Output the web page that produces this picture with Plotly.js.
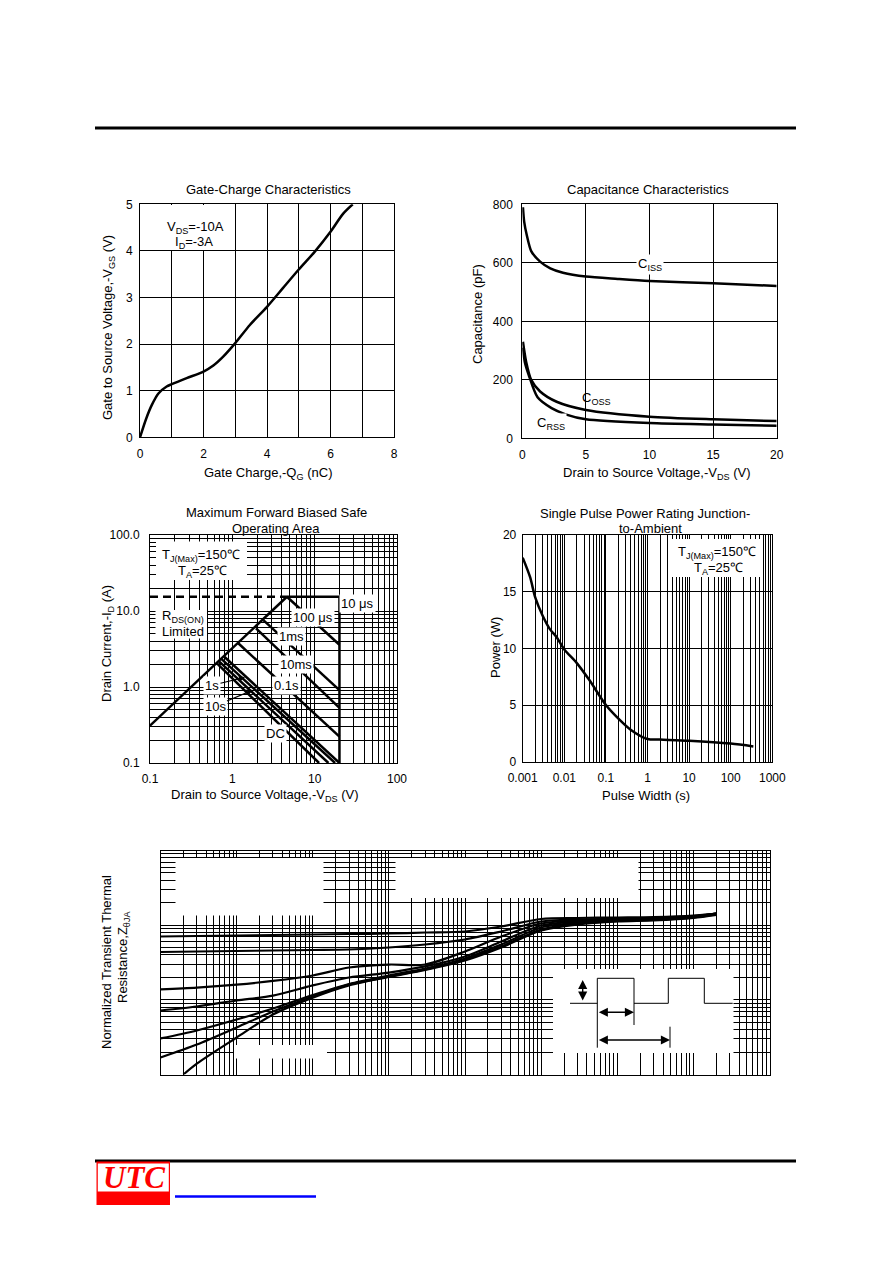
<!DOCTYPE html>
<html><head><meta charset="utf-8">
<script src="https://cdn.plot.ly/plotly-3.0.1.min.js"></script>
<style>html,body{margin:0;padding:0;background:#fff}#c{width:892px;height:1263px}</style>
</head><body><div id="c"></div>
<script>
// ---------- Gate-Charge Characteristics ----------
const gateQ = [0, 0.2, 0.37, 0.58, 0.84, 1.0, 1.47, 2.0, 2.31, 2.62, 3.0, 3.46, 4.0, 4.5, 5.0, 5.5, 6.0, 6.4, 6.7];
const gateV = [0, 0.41, 0.69, 0.94, 1.09, 1.14, 1.27, 1.41, 1.54, 1.73, 2.02, 2.41, 2.8, 3.2, 3.6, 3.98, 4.41, 4.8, 5.0];

// ---------- Capacitance Characteristics ----------
const cissV = [0.05, 0.15, 0.35, 0.7, 1.4, 2.2, 3.2, 5, 7.5, 10, 15, 20];
const ciss  = [790, 740, 695, 640, 604, 581, 566, 553, 545, 538, 530, 521];
const cossV = [0.05, 0.3, 0.7, 1.4, 2.7, 5, 10, 15, 20];
const coss  = [330, 262, 200, 160, 125, 97, 74, 65, 59];
const crssV = [0.05, 0.2, 0.5, 1.2, 2.3, 3.4, 5, 10, 15, 20];
const crss  = [310, 260, 217, 140, 103, 82, 65, 52, 47, 43];

// ---------- Safe Operating Area ----------
const rdsV = [0.1, 4.6];
const rdsI = [0.31, 15.4];
const limDashV = [0.1, 4.6];
const limDashI = [15.4, 15.4];
const limSolidV = [4.6, 20, 20];
const limSolidI = [15.4, 15.4, 0.1];
const pulseNames = ["100 μs", "1ms", "10ms", "0.1s", "1s", "10s", "100s", "DC"];
const pulseV0 = [4.6, 2.38, 1.94, 1.18, 0.80, 0.74, 0.69, 0.65];
const pulseI0 = [15.4, 7.6, 5.9, 3.76, 2.5, 2.33, 2.17, 2.05];
const pulseV1 = [20, 20, 20, 20, 20, 17.7, 14.7, 11.3];
const pulseI1 = [3.6, 0.91, 0.53, 0.222, 0.1, 0.1, 0.1, 0.1];

// ---------- Single Pulse Power ----------
const pulseWidth = [0.001, 0.0015, 0.002, 0.003, 0.0045, 0.0065, 0.01, 0.02, 0.04, 0.1, 0.2, 0.4, 1, 2, 10, 100, 350];
const pulsePower = [18.0, 16.3, 14.5, 12.9, 11.7, 11.0, 9.9, 8.7, 7.2, 5.0, 3.8, 2.8, 2.0, 1.95, 1.85, 1.6, 1.35];

// ---------- Transient Thermal Impedance ----------
const thT  = [1e-4, 3e-4, 1e-3, 3e-3, 1e-2, 3e-2, 0.1, 0.3, 1, 3, 10, 30, 100, 300, 1000, 2000];
const thTs = [2e-4, 3e-4, 1e-3, 3e-3, 1e-2, 3e-2, 0.1, 0.3, 1, 3, 10, 30, 100, 300, 1000, 2000];
const zA = [0.705, 0.716, 0.727, 0.738, 0.750, 0.762, 0.773, 0.798, 0.823, 0.960, 1.209, 1.247, 1.267, 1.286, 1.347, 1.433];
const zB = [0.437, 0.444, 0.451, 0.458, 0.465, 0.472, 0.502, 0.551, 0.643, 0.823, 1.120, 1.191, 1.228, 1.247, 1.327, 1.433];
const zC = [0.138, 0.146, 0.160, 0.179, 0.212, 0.271, 0.297, 0.297, 0.444, 0.705, 1.053, 1.155, 1.191, 1.228, 1.306, 1.433];
const zD = [0.0720, 0.0814, 0.098, 0.114, 0.156, 0.199, 0.232, 0.280, 0.381, 0.604, 0.990, 1.120, 1.173, 1.209, 1.306, 1.433];
const zE = [0.0304, 0.0389, 0.0545, 0.0766, 0.116, 0.163, 0.212, 0.263, 0.358, 0.551, 0.931, 1.086, 1.155, 1.191, 1.286, 1.411];
const zF = [0.0169, 0.0252, 0.0426, 0.0698, 0.111, 0.160, 0.205, 0.255, 0.347, 0.518, 0.875, 1.053, 1.137, 1.173, 1.267, 1.390];
const zSingle = [0.0100, 0.0140, 0.0313, 0.0636, 0.107, 0.156, 0.202, 0.251, 0.336, 0.502, 0.848, 1.021, 1.120, 1.155, 1.247, 1.368];

// ---------- helpers (layout positions only) ----------
const W = 892, H = 1263;
const PX = x => x / W;
const PY = y => 1 - y / H;
function logMinors(lo, hi) {
  const out = [];
  for (let e = lo; e < hi; e++) for (let k = 2; k <= 9; k++) out.push(+(k * Math.pow(10, e)).toPrecision(6));
  return out;
}
const FONT = 'Liberation Sans, Arial, Helvetica, sans-serif';
const base = {showline: true, mirror: true, linecolor: '#000', linewidth: 1, showgrid: true,
  gridcolor: '#000', gridwidth: 1, zeroline: false, ticks: '', fixedrange: true,
  tickfont: {size: 12, color: '#000', family: FONT}};
const minorGrid = vals => ({tickmode: 'array', tickvals: vals, showgrid: true, gridcolor: '#000', gridwidth: 1, ticks: ''});

const L = (x, y, xa, ya, extra) => Object.assign({x: x, y: y, xaxis: xa, yaxis: ya, mode: 'lines',
  line: {color: '#000', width: 2.5}, showlegend: false, hoverinfo: 'skip'}, extra || {});

const traces = [];
traces.push(L(gateQ, gateV, 'x', 'y', {line: {color: '#000', width: 2.5, shape: 'spline', smoothing: 0.8}}));
traces.push(L(cissV, ciss, 'x2', 'y2', {line: {color: '#000', width: 2.5, shape: 'spline', smoothing: 0.7}}));
traces.push(L(cossV, coss, 'x2', 'y2', {line: {color: '#000', width: 2.5, shape: 'spline', smoothing: 0.7}}));
traces.push(L(crssV, crss, 'x2', 'y2', {line: {color: '#000', width: 2.5, shape: 'spline', smoothing: 0.7}}));
traces.push(L(rdsV, rdsI, 'x3', 'y3'));
traces.push(L(limDashV, limDashI, 'x3', 'y3', {line: {color: '#000', width: 2.5, dash: '8px,5px'}}));
traces.push(L(limSolidV, limSolidI, 'x3', 'y3'));
for (let i = 0; i < pulseNames.length; i++) {
  traces.push(L([pulseV0[i], pulseV1[i]], [pulseI0[i], pulseI1[i]], 'x3', 'y3', {name: pulseNames[i]}));
}
traces.push(L(pulseWidth, pulsePower, 'x4', 'y4', {line: {color: '#000', width: 2.5, shape: 'spline', smoothing: 0.8}}));
[zA, zB, zC, zD, zE, zF].forEach(z => traces.push(L(thT, z, 'x5', 'y5', {line: {color: '#000', width: 2.2, shape: 'spline', smoothing: 0.8}})));
traces.push(L(thTs, zSingle, 'x5', 'y5', {line: {color: '#000', width: 2.2, shape: 'spline', smoothing: 0.8}}));

// ---------- annotations ----------
const ann = [];
function T(text, x, y, o) {
  ann.push(Object.assign({text: text, xref: 'paper', yref: 'paper', x: PX(x), y: PY(y),
    xanchor: 'center', yanchor: 'middle', showarrow: false, font: {size: 13, color: '#000', family: FONT}}, o || {}));
}
// chart titles
T('Gate-Charge Characteristics', 268, 190);
T('Capacitance Characteristics', 647.5, 190);
T('Maximum Forward Biased Safe', 276.5, 512);
T('Operating Area', 276, 528);
T('Single Pulse Power Rating Junction-', 645, 513);
T('to-Ambient', 650, 528);
// axis titles
T('Gate Charge,-Q<sub>G</sub> (nC)', 268, 473);
T('Gate to Source Voltage,-V<sub>GS</sub> (V)', 108, 328, {textangle: -90});
T('Drain to Source Voltage,-V<sub>DS</sub> (V)', 657, 473);
T('Capacitance (pF)', 477, 314, {textangle: -90});
T('Drain to Source Voltage,-V<sub>DS</sub> (V)', 265, 795);
T('Drain Current,-I<sub>D</sub> (A)', 107, 644, {textangle: -90});
T('Pulse Width (s)', 646, 795);
T('Power (W)', 495, 648, {textangle: -90});
T('Normalized Transient Thermal', 107, 962, {textangle: -90});
T('Resistance,Z<sub>θJA</sub>', 123, 957, {textangle: -90});
// in-plot labels
T('V<sub>DS</sub>=-10A', 195, 227);
T('I<sub>D</sub>=-3A', 194, 243);
const WB = {bgcolor: '#fff', borderpad: 1};
T('C<sub>ISS</sub>', 650, 264, WB);
T('C<sub>OSS</sub>', 596, 399);
T('C<sub>RSS</sub>', 551, 424, WB);
T('T<sub>J(Max)</sub>=150℃', 201, 555);
T('T<sub>A</sub>=25℃', 202, 571);
T('R<sub>DS(ON)</sub>', 183, 617);
T('Limited', 183, 631);
T('10 μs', 357.5, 603, WB);
T('100 μs', 312.5, 617.5, WB);
T('1ms', 291, 636, WB);
T('10ms', 296, 664, WB);
T('0.1s', 286, 685, WB);
T('DC', 275, 733, WB);
// arrowed labels (head position, text offset)
T('1s', 245, 677.3, Object.assign({showarrow: true, ax: -33, ay: 8, arrowhead: 2, arrowsize: 1, arrowwidth: 1.2, arrowcolor: '#000'}, WB));
T('10s', 253, 690, Object.assign({showarrow: true, ax: -38, ay: 16, arrowhead: 2, arrowsize: 1, arrowwidth: 1.2, arrowcolor: '#000'}, WB));
T('T<sub>J(Max)</sub>=150℃', 717, 552);
T('T<sub>A</sub>=25℃', 718, 568.5);
// inset arrows on thermal chart
const arr = {showarrow: true, arrowside: 'end+start', arrowhead: 2, arrowsize: 1.3, arrowwidth: 1.4, arrowcolor: '#000'};
T('', 582.7, 980, Object.assign({ax: 0, ay: 22}, arr));
T('', 634, 1012.3, Object.assign({ax: -36.7, ay: 0}, arr));
T('', 670, 1040, Object.assign({ax: -72.7, ay: 0}, arr));
// logo text
T('<b><i>UTC</i></b>', 133.5, 1177.5, {font: {size: 31, color: '#ff0000', family: 'Liberation Serif, Times New Roman, serif'}});

// ---------- shapes ----------
const shp = [];
function rect(x0, y0, x1, y1, fill) {
  shp.push({type: 'rect', xref: 'paper', yref: 'paper', x0: PX(x0), x1: PX(x1), y0: PY(y1), y1: PY(y0),
    fillcolor: fill, line: {width: 0}, layer: 'above'});
}
function seg(x0, y0, x1, y1, w, c) {
  shp.push({type: 'line', xref: 'paper', yref: 'paper', x0: PX(x0), x1: PX(x1), y0: PY(y0), y1: PY(y1),
    line: {color: c || '#000', width: w || 1}, layer: 'above'});
}
// page rules
seg(95, 128, 796, 128, 3);
seg(95, 1161, 796, 1161, 3);
// logo
rect(96.5, 1161.5, 170, 1205, '#ff0000');
rect(97.8, 1163.5, 168.8, 1191.5, '#ffffff');
seg(175, 1196.5, 316, 1196.5, 2.5, '#0000ff');
// white label backgrounds
rect(162, 205, 227, 250, '#fff');          // gate-charge conditions
rect(156, 541.5, 247, 580, '#fff');        // SOA conditions
rect(155.5, 610, 207, 638.5, '#fff');      // RDS(on) limited
rect(671.5, 539, 762, 577, '#fff');        // power conditions
rect(175.5, 858, 323.5, 915.5, '#fff');    // thermal masks
rect(395.5, 858, 638.5, 898, '#fff');
rect(234, 1045, 327, 1058.5, '#fff');
rect(553, 969, 733.5, 1053, '#fff');
// thermal inset pulse waveform
seg(570, 1003.3, 597.3, 1003.3);
seg(597.3, 978.3, 597.3, 1047.7);
seg(597.3, 978.3, 634, 978.3);
seg(634, 978.3, 634, 1025);
seg(634, 1003.3, 668.3, 1003.3);
seg(668.3, 978.3, 668.3, 1003.3);
seg(670, 1026.7, 670, 1047.7);
seg(668.3, 978.3, 704.3, 978.3);
seg(704.3, 978.3, 704.3, 1003.3);
seg(704.3, 1003.3, 732.7, 1003.3);

const layout = {
  width: W, height: H, autosize: false, margin: {l: 0, r: 0, t: 0, b: 0, pad: 0},
  paper_bgcolor: '#fff', plot_bgcolor: '#fff', showlegend: false,
  font: {family: FONT, size: 13, color: '#000'},
  xaxis: Object.assign({}, base, {domain: [PX(140), PX(394)], range: [0, 8], tickvals: [0, 2, 4, 6, 8],
    minor: minorGrid([1, 3, 5, 7]), anchor: 'y', ticklabelstandoff: 5}),
  yaxis: Object.assign({}, base, {domain: [PY(437.3), PY(204.3)], range: [0, 5], dtick: 1, anchor: 'x', ticklabelstandoff: 4}),
  xaxis2: Object.assign({}, base, {domain: [PX(522.3), PX(776.7)], range: [0, 20], dtick: 5, anchor: 'y2', ticklabelstandoff: 5}),
  yaxis2: Object.assign({}, base, {domain: [PY(438.3), PY(204.3)], range: [0, 800], dtick: 200, anchor: 'x2', ticklabelstandoff: 6}),
  xaxis3: Object.assign({}, base, {type: 'log', domain: [PX(150), PX(397)], range: [-1, 2],
    tickmode: 'array', tickvals: [0.1, 1, 10, 100], ticktext: ['0.1', '1', '10', '100'],
    minor: minorGrid(logMinors(-1, 2)), anchor: 'y3', ticklabelstandoff: 5}),
  yaxis3: Object.assign({}, base, {type: 'log', domain: [PY(763), PY(535)], range: [-1, 2],
    tickmode: 'array', tickvals: [0.1, 1, 10, 100], ticktext: ['0.1', '1.0', '10.0', '100.0'],
    minor: minorGrid(logMinors(-1, 2)), anchor: 'x3', ticklabelstandoff: 7}),
  xaxis4: Object.assign({}, base, {type: 'log', domain: [PX(522.7), PX(772.3)], range: [-3, 3],
    tickmode: 'array', tickvals: [0.001, 0.01, 0.1, 1, 10, 100, 1000],
    ticktext: ['0.001', '0.01', '0.1', '1', '10', '100', '1000'],
    minor: minorGrid(logMinors(-3, 3)), anchor: 'y4', ticklabelstandoff: 5}),
  yaxis4: Object.assign({}, base, {domain: [PY(761.7), PY(535)], range: [0, 20], dtick: 5, anchor: 'x4', ticklabelstandoff: 3}),
  xaxis5: Object.assign({}, base, {type: 'log', domain: [PX(160.5), PX(769.5)], range: [-4, 4],
    tickmode: 'array', tickvals: [1e-4, 1e-3, 1e-2, 1e-1, 1, 10, 100, 1000, 10000], showticklabels: false,
    minor: minorGrid(logMinors(-4, 4)), anchor: 'y5'}),
  yaxis5: Object.assign({}, base, {type: 'log', domain: [PY(1074.5), PY(850.5)], range: [-2, 1],
    tickmode: 'array', tickvals: [0.01, 0.1, 1, 10], showticklabels: false,
    minor: minorGrid(logMinors(-2, 1)), anchor: 'x5'}),
  annotations: ann,
  shapes: shp
};
Plotly.newPlot('c', traces, layout, {displayModeBar: false, staticPlot: true});
</script></body></html>
